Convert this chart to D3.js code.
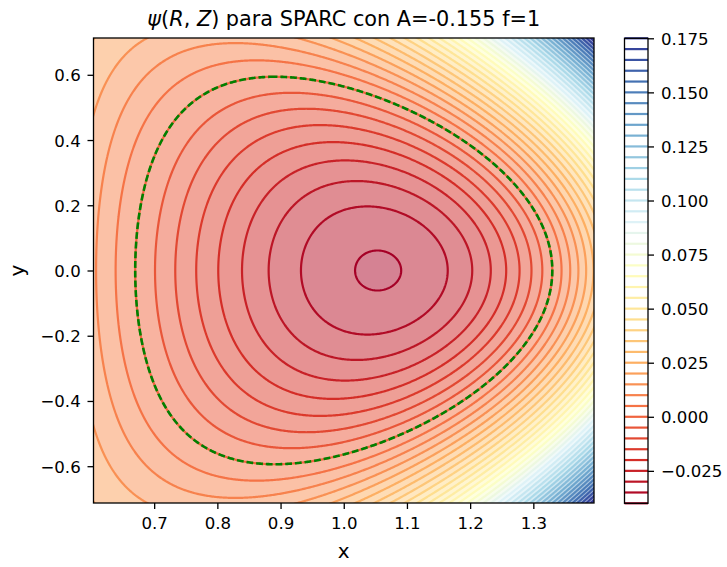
<!DOCTYPE html>
<html>
<head>
<meta charset="utf-8">
<script src="https://cdn.jsdelivr.net/npm/d3@7"></script>
<style>
  body { margin: 0; background: #ffffff; }
  text { font-family: "DejaVu Sans", sans-serif; fill: #000; }
</style>
</head>
<body>
<svg id="chart" width="727" height="567"></svg>
<script>
// Cerfon–Freidberg up-down symmetric equilibrium, SPARC-like boundary
const A = -0.155;
const epsilonKappaDelta = [0.33, 1.8, 0.33];   // inverse aspect ratio, elongation, triangularity
const domainScale = [1.2];                      // plotted box = 1.2 x plasma half-width / half-height

// filled-band boundaries of psi
const fillLevels = [-0.045, -0.040, -0.035, -0.030, -0.025, -0.020, -0.015, -0.010,
  -0.005, 0.000, 0.005, 0.010, 0.015, 0.020, 0.025, 0.030, 0.035, 0.040, 0.045,
  0.050, 0.055, 0.060, 0.065, 0.070, 0.075, 0.080, 0.085, 0.090, 0.095, 0.100,
  0.105, 0.110, 0.115, 0.120, 0.125, 0.130, 0.135, 0.140, 0.145, 0.150, 0.155,
  0.160, 0.165, 0.170, 0.175, 0.180];
// contour lines of psi (those inside the data range)
const levels = [-0.040, -0.035, -0.030, -0.025, -0.020, -0.015, -0.010, -0.005,
  0.000, 0.005, 0.010, 0.015, 0.020, 0.025, 0.030, 0.035, 0.040, 0.045, 0.050,
  0.055, 0.060, 0.065, 0.070, 0.075, 0.080, 0.085, 0.090, 0.095, 0.100, 0.105,
  0.110, 0.115, 0.120, 0.125, 0.130, 0.135, 0.140, 0.145, 0.150, 0.155, 0.160,
  0.165, 0.170, 0.175];
const separatrixLevel = [0];

const xTicks = [0.7, 0.8, 0.9, 1.0, 1.1, 1.2, 1.3];
const yTicks = [-0.6, -0.4, -0.2, 0.0, 0.2, 0.4, 0.6];
const cbTicks = [-0.025, 0.000, 0.025, 0.050, 0.075, 0.100, 0.125, 0.150, 0.175];

// RdYlBu colormap nodes
const rdylbu = ["#a50026", "#d73027", "#f46d43", "#fdae61", "#fee090", "#ffffbf",
  "#e0f3f8", "#abd9e9", "#74add1", "#4575b4", "#313695"];

const titleText = "para SPARC con A=-0.155 f=1";

// ---------- equilibrium ----------
const [eps, kap, del] = epsilonKappaDelta;

function terms(x, y) {
  const L = Math.log(x), x2 = x * x, x4 = x2 * x2, x6 = x4 * x2;
  const y2 = y * y, y4 = y2 * y2, y6 = y4 * y2;
  return [
    x4 / 8 + A * (x2 * L / 2 - x4 / 8),
    1,
    x2,
    y2 - x2 * L,
    x4 - 4 * x2 * y2,
    2 * y4 - 9 * y2 * x2 + 3 * x4 * L - 12 * x2 * y2 * L,
    x6 - 12 * x4 * y2 + 8 * x2 * y4,
    8 * y6 - 140 * y4 * x2 + 75 * y2 * x4 - 15 * x6 * L + 180 * x4 * y2 * L - 120 * x2 * y4 * L
  ];
}
const h = 1e-3;
const comb = (a, b, fa, fb) => a.map((v, i) => fa * v + fb * b[i]);
const dX = (x, y) => comb(terms(x + h, y), terms(x - h, y), 1 / (2 * h), -1 / (2 * h));
const dY = (x, y) => comb(terms(x, y + h), terms(x, y - h), 1 / (2 * h), -1 / (2 * h));
const dXX = (x, y) => { const a = terms(x + h, y), b = terms(x, y), c = terms(x - h, y);
  return a.map((v, i) => (v - 2 * b[i] + c[i]) / (h * h)); };
const dYY = (x, y) => { const a = terms(x, y + h), b = terms(x, y), c = terms(x, y - h);
  return a.map((v, i) => (v - 2 * b[i] + c[i]) / (h * h)); };

const alpha = Math.asin(del);
const N1 = -Math.pow(1 + alpha, 2) / (eps * kap * kap);
const N2 = Math.pow(1 - alpha, 2) / (eps * kap * kap);
const N3 = -kap / (eps * Math.cos(alpha) * Math.cos(alpha));
const xt = 1 - del * eps, yt = kap * eps;

const rows = [
  terms(1 + eps, 0),
  terms(1 - eps, 0),
  terms(xt, yt),
  dX(xt, yt),
  comb(dYY(1 + eps, 0), dX(1 + eps, 0), 1, N1),
  comb(dYY(1 - eps, 0), dX(1 - eps, 0), 1, N2),
  comb(dXX(xt, yt), dY(xt, yt), 1, N3)
];

function solve(M, b) {
  const n = b.length;
  M = M.map(r => r.slice()); b = b.slice();
  for (let k = 0; k < n; k++) {
    let p = k;
    for (let i = k + 1; i < n; i++) if (Math.abs(M[i][k]) > Math.abs(M[p][k])) p = i;
    [M[k], M[p]] = [M[p], M[k]]; [b[k], b[p]] = [b[p], b[k]];
    for (let i = k + 1; i < n; i++) {
      const f = M[i][k] / M[k][k];
      for (let j = k; j < n; j++) M[i][j] -= f * M[k][j];
      b[i] -= f * b[k];
    }
  }
  const out = new Array(n).fill(0);
  for (let i = n - 1; i >= 0; i--) {
    let s = b[i];
    for (let j = i + 1; j < n; j++) s -= M[i][j] * out[j];
    out[i] = s / M[i][i];
  }
  return out;
}
const coef = solve(rows.map(r => r.slice(1)), rows.map(r => -r[0]));
function psi(x, y) {
  const t = terms(x, y);
  let s = t[0];
  for (let i = 0; i < 7; i++) s += coef[i] * t[i + 1];
  return s;
}

// ---------- layout ----------
const svg = d3.select("#chart");
const plot = { left: 93.5, right: 594, top: 38, bottom: 503 };
const cbar = { left: 624.5, right: 648, top: 38.3, bottom: 503.3 };

const xMin = 1 - domainScale[0] * eps, xMax = 1 + domainScale[0] * eps;
const yMax = domainScale[0] * kap * eps, yMin = -yMax;

const xScale = d3.scaleLinear().domain([xMin, xMax]).range([plot.left, plot.right]);
const yScale = d3.scaleLinear().domain([yMin, yMax]).range([plot.bottom, plot.top]);

const cmap = d3.scaleLinear().domain(d3.range(11).map(i => i / 10)).range(rdylbu)
  .interpolate(d3.interpolateRgb).clamp(true);
const lmin = d3.min(levels), lmax = d3.max(levels);
const fmin = d3.min(fillLevels), fmax = d3.max(fillLevels);
const lineColor = v => cmap((v - lmin) / (lmax - lmin));
const fillColor = v => d3.interpolateRgb("#ffffff", cmap((v - fmin) / (fmax - fmin)))(0.5);

// ---------- grid ----------
const cells = 400, cellsY = 372, pad = 4;
const hx = (xMax - xMin) / cells, hy = (yMax - yMin) / cellsY;
const nx = cells + 1 + 2 * pad, ny = cellsY + 1 + 2 * pad;
const x0 = xMin - pad * hx, y0 = yMin - pad * hy;
const values = new Float64Array(nx * ny);
for (let j = 0; j < ny; j++) {
  const y = y0 + j * hy;
  for (let i = 0; i < nx; i++) values[j * nx + i] = psi(x0 + i * hx, y);
}

const proj = d3.geoTransform({
  point(cx, cy) {
    this.stream.point(xScale(x0 + (cx - 0.5) * hx), yScale(y0 + (cy - 0.5) * hy));
  }
});
const path = d3.geoPath(proj);
const contours = d3.contours().size([nx, ny]);

svg.append("defs").append("clipPath").attr("id", "plotClip")
  .append("rect")
  .attr("x", plot.left).attr("y", plot.top)
  .attr("width", plot.right - plot.left).attr("height", plot.bottom - plot.top);

const gPlot = svg.append("g").attr("clip-path", "url(#plotClip)");

// filled bands (each region psi >= lower bound, painted low to high)
const bands = contours.thresholds(fillLevels)(values);
gPlot.append("g").selectAll("path")
  .data(bands.filter((c, k) => k < fillLevels.length - 1))
  .join("path")
  .attr("d", path)
  .attr("fill", (c, k) => fillColor((fillLevels[k] + fillLevels[k + 1]) / 2))
  .attr("stroke", "none");

// contour lines
gPlot.append("g").selectAll("path")
  .data(contours.thresholds(levels)(values))
  .join("path")
  .attr("d", path)
  .attr("fill", "none")
  .attr("stroke", c => lineColor(c.value))
  .attr("stroke-width", 2.2)
  .attr("stroke-linejoin", "round");

// separatrix psi = 0
gPlot.append("g").selectAll("path")
  .data(contours.thresholds(separatrixLevel)(values))
  .join("path")
  .attr("d", path)
  .attr("fill", "none")
  .attr("stroke", "#008000")
  .attr("stroke-width", 2.6)
  .attr("stroke-dasharray", "6.8,2.9");

// frame
svg.append("rect")
  .attr("x", plot.left).attr("y", plot.top)
  .attr("width", plot.right - plot.left).attr("height", plot.bottom - plot.top)
  .attr("fill", "none").attr("stroke", "#000").attr("stroke-width", 1.3);

// axes
const fs = 16.6;
const xAxis = svg.append("g").attr("transform", `translate(0,${plot.bottom})`)
  .call(d3.axisBottom(xScale).tickValues(xTicks).tickFormat(d3.format(".1f"))
    .tickSize(6).tickSizeOuter(0));
xAxis.select(".domain").remove();
xAxis.selectAll(".tick line").attr("stroke", "#000").attr("stroke-width", 1.3);
xAxis.selectAll(".tick text").attr("y", 26.3).attr("dy", 0)
  .style("font-family", "DejaVu Sans").style("font-size", fs + "px");

const yAxis = svg.append("g").attr("transform", `translate(${plot.left},0)`)
  .call(d3.axisLeft(yScale).tickValues(yTicks).tickFormat(d3.format(".1f"))
    .tickSize(6).tickPadding(6.8).tickSizeOuter(0));
yAxis.select(".domain").remove();
yAxis.selectAll(".tick line").attr("stroke", "#000").attr("stroke-width", 1.3);
yAxis.selectAll(".tick text").attr("dy", "0.36em")
  .style("font-family", "DejaVu Sans").style("font-size", fs + "px");

// axis labels
svg.append("text").attr("x", (plot.left + plot.right) / 2).attr("y", 558)
  .attr("text-anchor", "middle").style("font-size", "20px").text("x");
svg.append("text").attr("transform", `translate(24,${(plot.top + plot.bottom) / 2}) rotate(-90)`)
  .attr("text-anchor", "middle").style("font-size", "20px").text("y");

// title
const title = svg.append("text").attr("x", (plot.left + plot.right) / 2).attr("y", 25.5)
  .attr("text-anchor", "middle").style("font-size", "20.8px");
title.append("tspan").attr("font-style", "italic").text("ψ");
title.append("tspan").text("(");
title.append("tspan").attr("font-style", "italic").text("R");
title.append("tspan").text(", ");
title.append("tspan").attr("font-style", "italic").text("Z");
title.append("tspan").text(") " + titleText);

// colorbar
const cScale = d3.scaleLinear().domain([lmin, lmax]).range([cbar.bottom, cbar.top]);
svg.append("rect")
  .attr("x", cbar.left).attr("y", cbar.top)
  .attr("width", cbar.right - cbar.left).attr("height", cbar.bottom - cbar.top)
  .attr("fill", "#ffffff");
svg.append("g").selectAll("line")
  .data(levels)
  .join("line")
  .attr("x1", cbar.left).attr("x2", cbar.right)
  .attr("y1", d => cScale(d)).attr("y2", d => cScale(d))
  .attr("stroke", d => lineColor(d))
  .attr("stroke-width", 2.2);
svg.append("rect")
  .attr("x", cbar.left).attr("y", cbar.top)
  .attr("width", cbar.right - cbar.left).attr("height", cbar.bottom - cbar.top)
  .attr("fill", "none").attr("stroke", "#000").attr("stroke-width", 1.3);

const cAxis = svg.append("g").attr("transform", `translate(${cbar.right},0)`)
  .call(d3.axisRight(cScale).tickValues(cbTicks).tickFormat(d3.format(".3f"))
    .tickSize(6).tickPadding(7).tickSizeOuter(0));
cAxis.select(".domain").remove();
cAxis.selectAll(".tick line").attr("stroke", "#000").attr("stroke-width", 1.3);
cAxis.selectAll(".tick text").attr("dy", "0.36em")
  .style("font-family", "DejaVu Sans").style("font-size", fs + "px");
</script>
</body>
</html>
